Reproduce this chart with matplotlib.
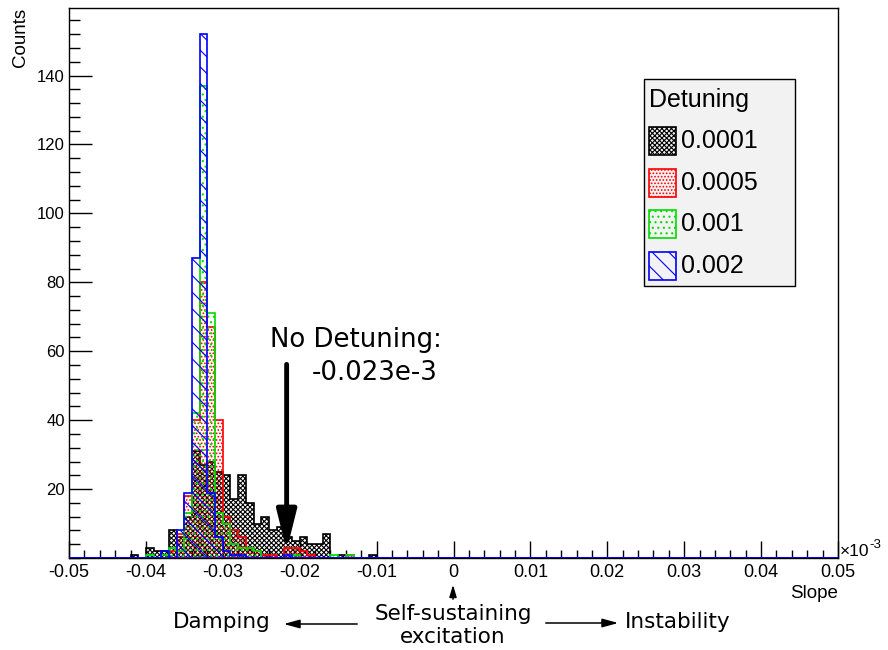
import numpy as np
import matplotlib.pyplot as plt
from matplotlib.patches import Rectangle
from matplotlib.ticker import MultipleLocator, FixedLocator

plt.rcParams['axes.unicode_minus'] = False
plt.rcParams['hatch.linewidth'] = 0.8

# 100 bins of width 0.001 between -0.05 and 0.05 (axis in units of 1e-3)
edges = np.linspace(-0.05, 0.05, 101)

# counts per bin, each list starts at the given bin index
black_start = 8
black_counts = [1, 0, 3, 2, 2, 8, 6, 12, 31, 27, 28, 25, 24, 17, 24, 16, 10, 12,
                8, 9, 6, 5, 6, 4, 4, 7, 0, 1, 0, 0, 0, 1]
red_start = 13
red_counts = [2, 7, 18, 40, 80, 67, 40, 12, 8, 6, 3, 2, 1, 1, 0, 3, 3, 2, 1, 0,
              0, 0, 0, 1]
green_start = 10
green_counts = [1, 0, 1, 3, 2, 13, 42, 137, 71, 13, 10, 4, 3, 3, 2, 0, 0, 0, 0,
                1, 0, 0, 0, 0, 1, 0, 1]
blue_start = 12
blue_counts = [2, 0, 8, 19, 87, 152, 19, 6, 2, 1, 1, 0, 0, 0, 0, 0, 1, 0]

labels = ['0.0001', '0.0005', '0.001', '0.002']
colors = ['black', 'red', '#00dd00', 'blue']
hatches = ['xxxxxxx', '.....', '...', '\\\\']

x_ticks = [-0.05, -0.04, -0.03, -0.02, -0.01, 0, 0.01, 0.02, 0.03, 0.04, 0.05]
x_ticklabels = ['-0.05', '-0.04', '-0.03', '-0.02', '-0.01', '0', '0.01',
                '0.02', '0.03', '0.04', '0.05']
y_ticks = [20, 40, 60, 80, 100, 120, 140]


def full(start, counts):
    h = np.zeros(100)
    h[start:start + len(counts)] = counts
    return h


def fx(px):
    return px / 888


def fy(py):
    return 1 - py / 650


series = [full(black_start, black_counts), full(red_start, red_counts),
          full(green_start, green_counts), full(blue_start, blue_counts)]

fig = plt.figure(figsize=(8.88, 6.5), dpi=100)
ax = fig.add_axes([fx(69), fy(558), fx(838) - fx(69), fy(8) - fy(558)])

centers = 0.5 * (edges[:-1] + edges[1:])
for h, c, hat in zip(series, colors, hatches):
    ax.hist(centers, bins=edges, weights=h, histtype='stepfilled', fill=False,
            edgecolor=c, hatch=hat, lw=1.2, zorder=3)

ax.set_xlim(-0.05, 0.05)
ax.set_ylim(0, 1.05 * max(blue_counts))
ax.xaxis.set_major_locator(FixedLocator(x_ticks))
ax.set_xticklabels(x_ticklabels, fontfamily='Liberation Sans', fontsize=13)
ax.xaxis.set_minor_locator(MultipleLocator(0.002))
ax.yaxis.set_major_locator(FixedLocator(y_ticks))
ax.set_yticklabels([str(v) for v in y_ticks], fontfamily='Liberation Sans',
                   fontsize=12)
ax.yaxis.set_minor_locator(MultipleLocator(4))
ax.tick_params(axis='x', which='major', direction='in', length=12, width=1, pad=4)
ax.tick_params(axis='x', which='minor', direction='in', length=6, width=1)
ax.tick_params(axis='y', which='major', direction='in', length=16.5, width=1, pad=3)
ax.tick_params(axis='y', which='minor', direction='in', length=8, width=1)
for s in ax.spines.values():
    s.set_linewidth(1)

# axis titles (ROOT style)
fig.text(fx(838), fy(593), 'Slope', ha='right', va='center',
         fontfamily='Liberation Sans', fontsize=13.5)
fig.text(fx(20), fy(8), 'Counts', ha='center', va='top', rotation=90,
         fontfamily='Liberation Sans', fontsize=13.5)
fig.text(fx(840), fy(552), '\u00d710', ha='left', va='center',
         fontfamily='Liberation Sans', fontsize=12.5)
fig.text(fx(869), fy(545), '-3', ha='left', va='center',
         fontfamily='Liberation Sans', fontsize=9.5)

# legend
fig.patches.append(Rectangle((fx(644), fy(286)), fx(795) - fx(644), fy(79) - fy(286),
                             transform=fig.transFigure, facecolor='#f2f2f2',
                             edgecolor='black', lw=1, zorder=5))
fig.text(fx(649), fy(100), 'Detuning', ha='left', va='center',
         fontfamily='Liberation Sans', fontsize=18, zorder=6)
for i, (lab, c, hat) in enumerate(zip(labels, colors, hatches)):
    yc = 141 + i * 41.7
    fig.patches.append(Rectangle((fx(649), fy(yc + 14)), fx(676) - fx(649),
                                 fy(yc - 14) - fy(yc + 14),
                                 transform=fig.transFigure, fill=False,
                                 edgecolor=c, hatch=hat, lw=1.2, zorder=6))
    fig.text(fx(681), fy(yc), lab, ha='left', va='center',
             fontfamily='Liberation Sans', fontsize=18, zorder=6)

# no-detuning annotation
ax.annotate('', xy=(-0.0217, 1.4), xytext=(-0.0217, 57),
            arrowprops=dict(arrowstyle='-|>,head_width=0.5,head_length=2',
                            mutation_scale=12, lw=3.5, color='black'),
            zorder=7)
fig.text(fx(270), fy(340), 'No Detuning:', ha='left', va='center',
         fontfamily='DejaVu Sans', fontsize=18.7)
fig.text(fx(312), fy(373), '-0.023e-3', ha='left', va='center',
         fontfamily='DejaVu Sans', fontsize=18.7)

# labels below the axis
fig.text(fx(222), fy(622), 'Damping', ha='center', va='center',
         fontfamily='DejaVu Sans', fontsize=15.5)
fig.text(fx(453), fy(614), 'Self-sustaining', ha='center', va='center',
         fontfamily='DejaVu Sans', fontsize=15.5)
fig.text(fx(453), fy(637), 'excitation', ha='center', va='center',
         fontfamily='DejaVu Sans', fontsize=15.5)
fig.text(fx(625), fy(622), 'Instability', ha='left', va='center',
         fontfamily='DejaVu Sans', fontsize=15.5)
arr = dict(arrowstyle='-|>,head_width=0.22,head_length=0.8', mutation_scale=12,
           lw=1.1, color='black')
ax.annotate('', xy=(fx(281), fy(624)), xytext=(fx(360), fy(624)),
            xycoords='figure fraction', textcoords='figure fraction', arrowprops=arr)
ax.annotate('', xy=(fx(621), fy(623)), xytext=(fx(543), fy(623)),
            xycoords='figure fraction', textcoords='figure fraction', arrowprops=arr)
small = dict(arrowstyle='-|>,head_width=0.18,head_length=0.6', mutation_scale=12,
             lw=1.1, color='black')
ax.annotate('', xy=(fx(453), fy(582)), xytext=(fx(453), fy(602)),
            xycoords='figure fraction', textcoords='figure fraction', arrowprops=small)

fig.savefig('out.png', dpi=100)
